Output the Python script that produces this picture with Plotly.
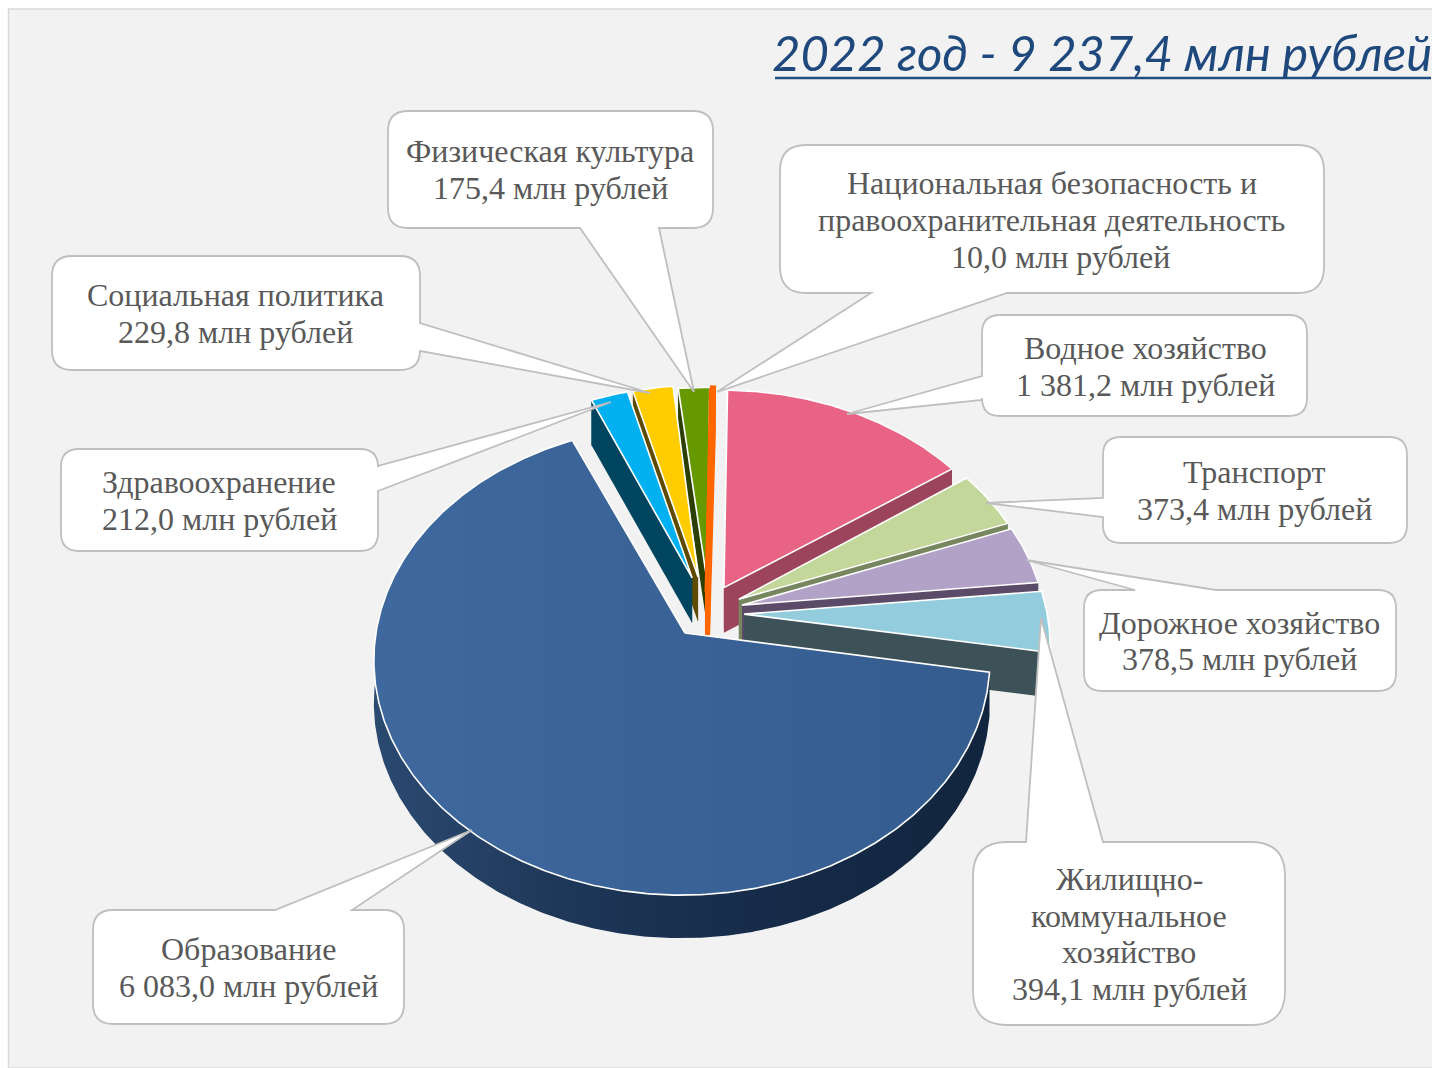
import numpy as np
import plotly.graph_objects as go

# ---- data ----
categories = ["Образование", "Здравоохранение", "Социальная политика", "Физическая культура",
              "Национальная безопасность и правоохранительная деятельность", "Водное хозяйство",
              "Транспорт", "Дорожное хозяйство", "Жилищно-коммунальное хозяйство"]
values_mln = [6083.0, 212.0, 229.8, 175.4, 10.0, 1381.2, 373.4, 378.5, 394.1]
value_labels = ["6 083,0", "212,0", "229,8", "175,4", "10,0", "1 381,2", "373,4", "378,5", "394,1"]
title_text = "2022 год - 9 237,4 млн рублей"

# ---- style: one entry per slice ----
top_colors = ["#3a6296", "#00b0f0", "#ffcc00", "#669900", "#ff6600", "#e96484", "#c4d79b", "#b3a2c7", "#93cddd"]
wall_colors = ["#1a3150", "#00455f", "#5f4b00", "#2a3f00", "#ff6600", "#9b445c", "#76865f", "#5b4b68", "#3d5258"]
pull_x = [0, .024, .044, .075, .075, .13, .179, .189, .195]
pull_y = [0, .244, .248, .22, .18, .2, .148, .122, .082]
arc_dx = [-.01, .016, .016, .006, .012, .01, 0, 0, 0]
radius_k = [1, .97, .97, .985, 1.02, .99, 1, 1, 1]
depths = [43, 45, 45, 45, 45, 45, 45, 45, 45]
draw_order = [3, 4, 2, 1, 5, 6, 7, 8, 0]

# ---- projection of the tilted pie ----
CX, CY, A, B, P = 685, 633, 306, 232, .115
START_DEG = -23.4 - 237.07


def proj(x, y, dz=0.0):
    w = 1 + P * y
    return CX + A * x / w, CY - B * y / w + dz


total = sum(values_mln)
sweeps = [v / total * 360 for v in values_mln]
starts = np.concatenate([[START_DEG], START_DEG + np.cumsum(sweeps)[:-1]])

fig = go.Figure()


def poly(xs, ys, color, name, lw=0.0, lcolor="#ffffff", grad=None):
    kw = dict(fillgradient=grad) if grad else dict(fillcolor=color)
    fig.add_trace(go.Scatter(x=list(xs), y=list(ys), mode="lines", fill="toself",
                             line=dict(color=lcolor, width=lw), name=name,
                             hoverinfo="name", showlegend=False, **kw))


for i in draw_order:
    s, e = starts[i], starts[i] + sweeps[i]
    t = np.radians(np.linspace(s, e, max(8, int(sweeps[i] * 2))))
    r = radius_k[i]
    ax = pull_x[i] + arc_dx[i] + r * np.sin(t)
    ay = pull_y[i] + r * np.cos(t)
    name = categories[i]
    thin = sweeps[i] < 1
    lw_top = 6 if thin else 1.6
    line_top = top_colors[i] if thin else "#ffffff"
    # side walls
    d = depths[i]
    vx, vy = proj(pull_x[i], pull_y[i])
    vxb, vyb = proj(pull_x[i], pull_y[i], d)
    ox, oy = proj(ax, ay)
    oxb, oyb = proj(ax, ay, d)
    if i == 0:
        grad = dict(type="horizontal", start=374, stop=990,
                    colorscale=[[0, "#2b4a70"], [.35, "#1d3556"], [.6, "#162c4a"], [1, "#12253e"]])
        poly(np.r_[ox, oxb[::-1], ox[0]], np.r_[oy, oyb[::-1], oy[0]], None, name, grad=grad)
    else:
        for k in (0, -1):
            wl = 5 if thin else 0
            poly([vx, ox[k], oxb[k], vxb, vx], [vy, oy[k], oyb[k], vyb, vy],
                 wall_colors[i], name, lw=wl, lcolor=wall_colors[i])
        poly(np.r_[ox, oxb[::-1], ox[0]], np.r_[oy, oyb[::-1], oy[0]], wall_colors[i], name)
    # top face
    grad = None
    if i == 0:
        grad = dict(type="horizontal", start=374, stop=990,
                    colorscale=[[0, "#3f689e"], [1, "#345c8f"]])
    poly(np.r_[vx, ox, vx], np.r_[vy, oy, vy], top_colors[i], name, lw=lw_top, lcolor=line_top, grad=grad)


# ---- callouts ----
def callout(x0, y0, x1, y1, r, side, a, b, tx, ty):
    p = [f"M{x0 + r},{y0}"]
    if side == "top":
        p += [f"L{a},{y0}", f"L{tx},{ty}", f"L{b},{y0}"]
    p += [f"L{x1 - r},{y0}", f"Q{x1},{y0} {x1},{y0 + r}"]
    if side == "right":
        p += [f"L{x1},{a}", f"L{tx},{ty}", f"L{x1},{b}"]
    p += [f"L{x1},{y1 - r}", f"Q{x1},{y1} {x1 - r},{y1}"]
    if side == "bottom":
        p += [f"L{b},{y1}", f"L{tx},{ty}", f"L{a},{y1}"]
    p += [f"L{x0 + r},{y1}", f"Q{x0},{y1} {x0},{y1 - r}"]
    if side == "left":
        p += [f"L{x0},{b}", f"L{tx},{ty}", f"L{x0},{a}"]
    p += [f"L{x0},{y0 + r}", f"Q{x0},{y0} {x0 + r},{y0}", "Z"]
    return dict(type="path", path=" ".join(p), fillcolor="#ffffff",
                line=dict(color="#bfbfbf", width=1.8), layer="above")


boxes = {
    3: (388, 111, 713, 228, 20, "bottom", 580, 659, 694, 392),
    4: (780, 145, 1324, 293, 26, "bottom", 871, 1007, 717, 392),
    2: (52, 256, 420, 370, 20, "right", 323, 351, 650, 393),
    5: (982, 315, 1307, 416, 18, "left", 376, 400, 847, 414),
    1: (61, 449, 378, 551, 18, "right", 466, 491, 611, 402),
    6: (1103, 437, 1407, 543, 18, "left", 498, 517, 986, 503),
    7: (1084, 590, 1396, 691, 18, "top", 1135, 1216, 1026, 560),
    8: (973, 842, 1285, 1025, 34, "top", 1026, 1103, 1041, 618),
    0: (93, 910, 404, 1024, 20, "top", 275, 352, 472, 830),
}
# centre x of each text line and the y of each line
text_x = {3: [550, 550], 4: [1052, 1051, 1060], 2: [235, 235], 5: [1145, 1145], 1: [219, 219],
          6: [1254, 1254], 7: [1239, 1239], 8: [1129, 1129, 1129, 1129], 0: [248, 248]}
text_y = {3: [151, 188], 4: [183, 220, 257], 2: [295, 332], 5: [348, 385], 1: [482, 519],
          6: [472, 509], 7: [623, 659], 8: [879, 916, 952, 989], 0: [949, 986]}
name_lines = {
    4: ["Национальная безопасность и", "правоохранительная деятельность"],
    8: ["Жилищно-", "коммунальное", "хозяйство"],
}

shapes = [dict(type="rect", x0=8.5, y0=9, x1=1440, y1=1068, fillcolor="#f2f2f2",
               line=dict(color="#d9d9d9", width=1.5), layer="below")]
shapes += [callout(*boxes[i]) for i in boxes]
shapes.append(dict(type="line", x0=775, x1=1431, y0=78, y1=78, line=dict(color="#1f4e82", width=2.4), layer="above"))

annotations = []
for i in text_x:
    lines = name_lines.get(i, [categories[i]]) + [f"{value_labels[i]} млн рублей"]
    for ln, tx, ty in zip(lines, text_x[i], text_y[i]):
        annotations.append(dict(x=tx, y=ty, text=ln, showarrow=False, xanchor="center", yanchor="middle",
                                font=dict(family="Liberation Serif", size=32, color="#595959")))
annotations.append(dict(x=1431, xshift=3, y=52, text=f"<i>{title_text}</i>", showarrow=False,
                        xanchor="right", yanchor="middle",
                        font=dict(family="Lato", size=49, color="#1f497d")))

fig.update_layout(
    width=1432, height=1068, margin=dict(l=0, r=0, t=0, b=0), autosize=False,
    paper_bgcolor="#ffffff", plot_bgcolor="rgba(0,0,0,0)", showlegend=False,
    xaxis=dict(range=[0, 1432], visible=False, fixedrange=True),
    yaxis=dict(range=[1068, 0], visible=False, fixedrange=True),
    shapes=shapes, annotations=annotations,
)
fig.write_html("out.html", config=dict(displayModeBar=False),
               post_script="document.body.style.margin='0';document.body.style.overflow='hidden';")
